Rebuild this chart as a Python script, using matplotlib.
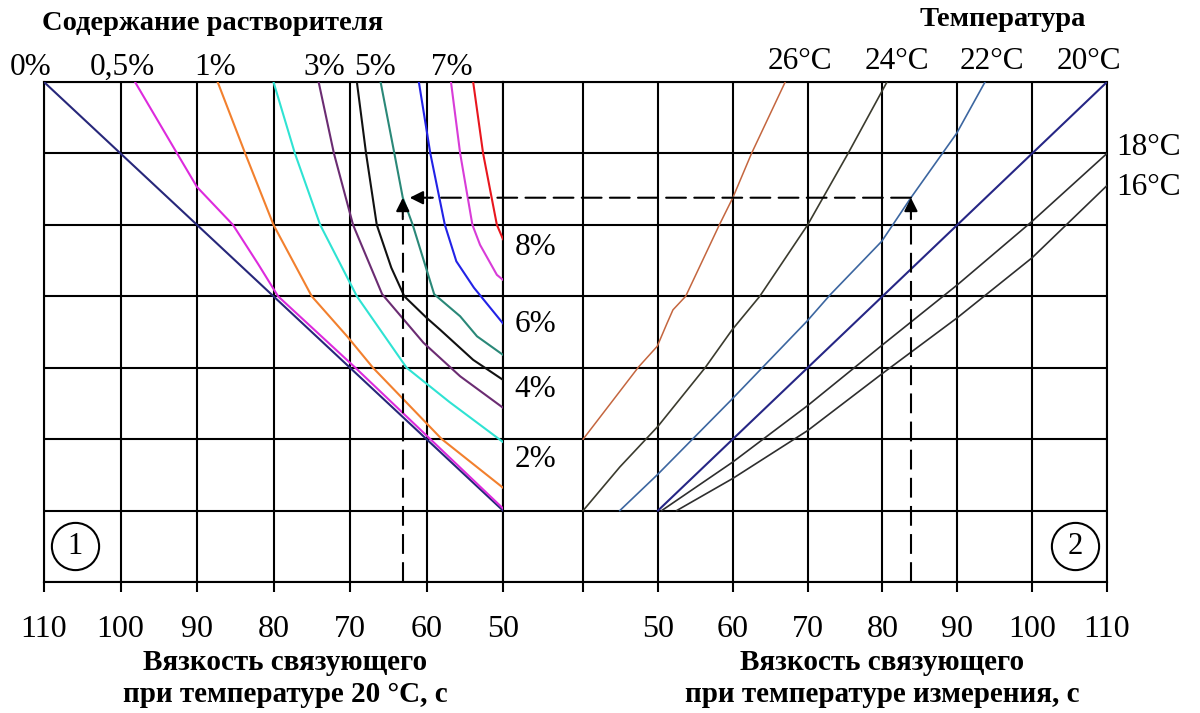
import matplotlib
matplotlib.use('Agg')
import matplotlib.pyplot as plt
from matplotlib.patches import ConnectionPatch

plt.rcParams['font.family'] = ['Liberation Serif', 'DejaVu Serif']

# --- panel 1: solvent content (x = binder viscosity at 20 C, y = reduced viscosity)
p0_x = [110, 50]
p0_y = [110, 50]
p05_x = [98.1, 92.6, 90, 85.3, 82, 79.4, 69.3, 59.5, 50]
p05_y = [110, 100, 95.3, 90, 84.5, 80, 70, 60, 50.3]
p1_x = [87.3, 83.7, 80, 75, 70.3, 67, 58, 50]
p1_y = [110, 100, 90, 80, 74.3, 70, 60, 53.2]
p2_x = [80, 77.2, 73.9, 69.1, 62.6, 57, 50]
p2_y = [110, 100, 90, 80, 70, 65.2, 59.6]
p3_x = [74.1, 72.1, 69.6, 65.8, 60.4, 55.6, 50]
p3_y = [110, 100, 90, 80.3, 73.5, 68.8, 64.4]
p4_x = [69.1, 67.9, 66.5, 64.6, 62.9, 60, 58.2, 53.9, 50]
p4_y = [110, 100, 90, 84, 80, 77, 75.3, 71.1, 68.3]
p5_x = [66, 64.2, 63.1, 61.8, 59, 55.6, 53.4, 50]
p5_y = [110, 100, 93.8, 90, 80.3, 77.2, 74.4, 71.8]
p6_x = [61, 59.5, 57.6, 56.1, 53.8, 50]
p6_y = [110, 100, 90, 84.9, 81.2, 76.2]
p7_x = [56.8, 55.6, 54, 53, 50.8, 50]
p7_y = [110, 100, 90, 87.2, 83, 82.3]
p8_x = [53.9, 52.6, 50.8, 50]
p8_y = [110, 100, 90, 88]

solvent_curves = [(p0_x, p0_y, '#27277a'), (p05_x, p05_y, '#dd2bdd'),
                  (p1_x, p1_y, '#f2802e'), (p2_x, p2_y, '#2fe3d3'),
                  (p3_x, p3_y, '#6b2c72'), (p4_x, p4_y, '#111111'),
                  (p5_x, p5_y, '#2a8878'), (p6_x, p6_y, '#2222e6'),
                  (p7_x, p7_y, '#d83cd8'), (p8_x, p8_y, '#e8161e')]

# --- panel 2: temperature (x = viscosity at measuring temperature)
t26_x = [67, 62.5, 60, 58.2, 53.7, 52, 51.2, 49.9, 47.4, 40]
t26_y = [110, 100, 93.8, 90, 80, 78.1, 76.2, 73, 70.1, 60]
t24_x = [80.6, 75.4, 70, 63.6, 59.9, 56.3, 50, 44.9, 40]
t24_y = [110, 100, 90, 80, 75.3, 70, 61.8, 56.1, 50]
t22_x = [93.7, 89.9, 83.8, 79.9, 73, 69.9, 59.8, 49.9, 44.9]
t22_y = [110, 102.8, 93.8, 87.7, 80.2, 76.5, 65.5, 55, 50]
t20_x = [50, 110]
t20_y = [50, 110]
t18_x = [50.5, 60, 70, 80, 90, 100, 110]
t18_y = [50, 56.8, 64.7, 73.2, 81.6, 90.5, 100]
t16_x = [52.5, 60, 70, 80, 90, 100, 110]
t16_y = [50, 54.5, 61.2, 69.2, 77, 85.4, 95.5]

temp_curves = [(t26_x, t26_y, '#c4663f', 1.1), (t24_x, t24_y, '#3b3b2e', 1.2),
               (t22_x, t22_y, '#3c66a0', 1.2), (t20_x, t20_y, '#262685', 1.5),
               (t18_x, t18_y, '#2e2e2e', 1.2), (t16_x, t16_y, '#2e2e2e', 1.2)]

# worked example
v20_example = 63.1
v_meas_example = 83.8
level_example = 93.8

left_ticks = [110, 100, 90, 80, 70, 60, 50]
right_ticks = [40, 50, 60, 70, 80, 90, 100, 110]
right_ticklabels = ['', '50', '60', '70', '80', '90', '100', '110']
rows = [40, 50, 60, 70, 80, 90, 100, 110]

W, H = 1200, 713
fig = plt.figure(figsize=(12, 7.13), dpi=100)
ax1 = fig.add_axes([44 / W, 1 - 582 / H, 459 / W, 500 / H])
ax2 = fig.add_axes([503 / W, 1 - 582 / H, 604 / W, 500 / H])
ax2.patch.set_visible(False)

ax1.set_xlim(110, 50)
ax2.set_xlim(29.29, 110)
for ax in (ax1, ax2):
    ax.set_ylim(40, 110)
    ax.set_yticks(rows)
    ax.tick_params(axis='y', length=0, labelleft=False)
    ax.tick_params(axis='x', direction='out', length=7, width=1.5,
                   labelsize=23, pad=17)
    ax.grid(True, color='black', lw=1.5)
    ax.set_axisbelow(True)
    for s in ax.spines.values():
        s.set_linewidth(1.5)
ax2.spines['left'].set_visible(False)

ax1.set_xticks(left_ticks)
ax2.set_xticks(right_ticks)
ax2.set_xticklabels(right_ticklabels)

for xs, ys, c in solvent_curves:
    ax1.plot(xs, ys, color=c, lw=1.5, zorder=3)
for xs, ys, c, w in temp_curves:
    ax2.plot(xs, ys, color=c, lw=w, zorder=3)

# labels of solvent curves
top_labels = [('0%', 111.8), ('0,5%', 99.7), ('1%', 87.6), ('3%', 73.3),
              ('5%', 66.7), ('7%', 56.7)]
for txt, x in top_labels:
    ax1.text(x, 112, txt, ha='center', va='center', fontsize=22.5, clip_on=False)
for txt, y in [('8%', 86.9), ('6%', 76), ('4%', 66.9), ('2%', 57.1)]:
    ax2.text(30.8, y, txt, ha='left', va='center', fontsize=22.5)

# labels of temperature curves
for txt, x in [('26°C', 69), ('24°C', 81.9), ('22°C', 94.6), ('20°C', 107.6)]:
    ax2.text(x, 112.9, txt, ha='center', va='center', fontsize=22.5, clip_on=False)
ax2.text(111.2, 100.8, '18°C', ha='left', va='center', fontsize=22.5, clip_on=False)
ax2.text(111.2, 95.3, '16°C', ha='left', va='center', fontsize=22.5, clip_on=False)

fig.text(42 / W, 1 - 24 / H, 'Содержание растворителя', ha='left', va='center',
         fontsize=20.5, fontweight='bold')
fig.text(1003 / W, 1 - 20 / H, 'Температура', ha='center', va='center',
         fontsize=20.5, fontweight='bold')
fig.text(285 / W, 1 - 663 / H, 'Вязкость связующего', ha='center', va='center',
         fontsize=21, fontweight='bold')
fig.text(285 / W, 1 - 695 / H, 'при температуре 20 °С, с', ha='center',
         va='center', fontsize=21, fontweight='bold')
fig.text(882 / W, 1 - 663 / H, 'Вязкость связующего', ha='center', va='center',
         fontsize=21, fontweight='bold')
fig.text(882 / W, 1 - 695 / H, 'при температуре измерения, с', ha='center',
         va='center', fontsize=21, fontweight='bold')

# panel numbers in circles
for ax, x, num in [(ax1, 105.9, '1'), (ax2, 105.7, '2')]:
    ax.plot([x], [45], marker='o', ms=34, mfc='white', mec='black', mew=1.5,
            zorder=4)
    ax.text(x, 45, num, ha='center', va='center', fontsize=22, zorder=5)

# dashed path of the example with arrows
dash = (0, (9.5, 4))
ax1.plot([v20_example, v20_example], [40, level_example - 2.5], color='black',
         lw=1.5, ls=dash, zorder=4)
ax2.plot([v_meas_example, v_meas_example], [40, level_example - 2.5],
         color='black', lw=1.5, ls=dash, zorder=4)
head = dict(arrowstyle='-|>', color='black', lw=1.5, mutation_scale=20,
            shrinkA=0, shrinkB=0)
ax1.annotate('', xy=(v20_example, level_example),
             xytext=(v20_example, level_example - 3), arrowprops=head)
ax2.annotate('', xy=(v_meas_example, level_example),
             xytext=(v_meas_example, level_example - 3), arrowprops=head)
line = ConnectionPatch(xyA=(v_meas_example, level_example), coordsA=ax2.transData,
                       xyB=(59.5, level_example), coordsB=ax1.transData,
                       color='black', lw=1.5, linestyle=dash, zorder=4)
fig.add_artist(line)
ax1.annotate('', xy=(62.2, level_example), xytext=(59.5, level_example),
             arrowprops=head)

fig.savefig('out.png', dpi=100)
